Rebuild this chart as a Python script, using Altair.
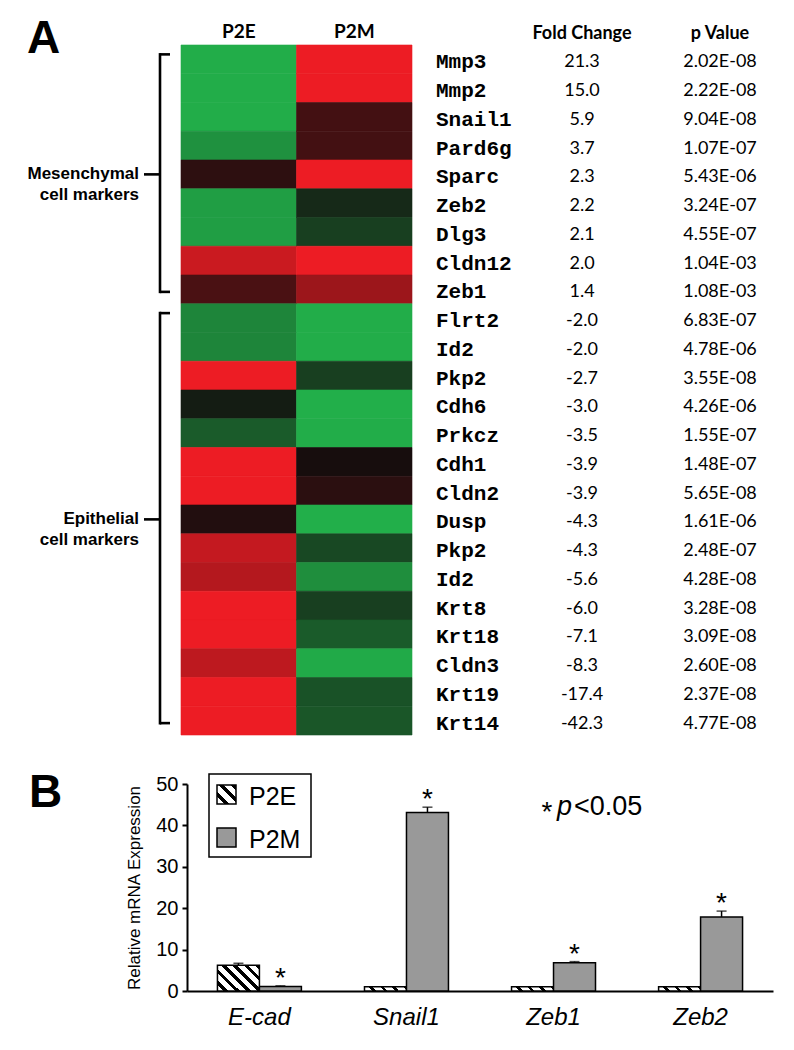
import altair as alt
import pandas as pd

# ---------------- Panel A data ----------------
genes = ["Mmp3", "Mmp2", "Snail1", "Pard6g", "Sparc", "Zeb2", "Dlg3", "Cldn12", "Zeb1",
         "Flrt2", "Id2", "Pkp2", "Cdh6", "Prkcz", "Cdh1", "Cldn2", "Dusp", "Pkp2", "Id2",
         "Krt8", "Krt18", "Cldn3", "Krt19", "Krt14"]
# heat-map level (-1 = bright green, 0 = black, +1 = bright red)
p2e_level = [-0.97, -0.97, -0.97, -0.80, 0.12, -0.88, -0.88, 0.84, 0.25,
             -0.73, -0.73, 1.0, -0.09, -0.47, 1.0, 1.0, 0.07, 0.81, 0.74,
             1.0, 1.0, 0.78, 1.0, 1.0]
p2m_level = [1.0, 1.0, 0.22, 0.22, 1.0, -0.17, -0.30, 1.0, 0.63,
             -0.97, -0.97, -0.30, -0.98, -0.97, 0.02, 0.11, -0.98, -0.36, -0.78,
             -0.30, -0.47, -0.95, -0.42, -0.44]
fold_change = [21.3, 15.0, 5.9, 3.7, 2.3, 2.2, 2.1, 2.0, 1.4,
               -2.0, -2.0, -2.7, -3.0, -3.5, -3.9, -3.9, -4.3, -4.3, -5.6,
               -6.0, -7.1, -8.3, -17.4, -42.3]
p_values = [2.02e-08, 2.22e-08, 9.04e-08, 1.07e-07, 5.43e-06, 3.24e-07, 4.55e-07, 1.04e-03, 1.08e-03,
            6.83e-07, 4.78e-06, 3.55e-08, 4.26e-06, 1.55e-07, 1.48e-07, 5.65e-08, 1.61e-06, 2.48e-07,
            4.28e-08, 3.28e-08, 3.09e-08, 2.60e-08, 2.37e-08, 4.77e-08]
samples = ["P2E", "P2M"]

group_labels = ["Mesenchymal\ncell markers", "Epithelial\ncell markers"]
group_first = [1, 10]
group_last = [9, 24]
group_mid = [5, 17]

# ---------------- Panel B data ----------------
bar_genes = ["E-cad", "Snail1", "Zeb1", "Zeb2"]
p2e_mean = [6.2, 1.0, 1.0, 1.0]
p2e_err = [0.5, 0.0, 0.0, 0.0]
p2m_mean = [1.1, 43.1, 6.8, 17.9]
p2m_err = [0.15, 1.3, 0.3, 1.4]
p2m_sig = [True, True, True, True]

# ---------------- tables ----------------
idx = list(range(1, len(genes) + 1))
heat_df = pd.DataFrame({
    "idx": idx * 2,
    "col": ["P2E"] * len(genes) + ["P2M"] * len(genes),
    "level": p2e_level + p2m_level,
})
tab_df = pd.DataFrame({
    "idx": idx,
    "gene": genes,
    "fc": [f"{v:.1f}" for v in fold_change],
    "pv": [f"{v:.2E}" for v in p_values],
})
grp_df = pd.DataFrame({"label": group_labels, "first": group_first,
                       "last": group_last, "mid": group_mid})

bar_df = pd.DataFrame({
    "gene": bar_genes * 2,
    "series": ["P2E"] * 4 + ["P2M"] * 4,
    "value": p2e_mean + p2m_mean,
    "err": p2e_err + p2m_err,
    "sig": [False] * 4 + p2m_sig,
})
bar_df["top"] = bar_df["value"] + bar_df["err"]
err_df = bar_df[bar_df["err"] > 0]
sig_df = bar_df[bar_df["sig"]]
leg_df = pd.DataFrame({"series": samples})


def hatch(n, black, x1, y1, x2, y2):
    stops = []
    for i in range(n):
        a, b, c = i / n, (i + 1 - black) / n, (i + 1) / n
        stops += [{"offset": round(a, 4), "color": "white"},
                  {"offset": round(b, 4), "color": "white"},
                  {"offset": round(b, 4), "color": "black"},
                  {"offset": round(c, 4), "color": "black"}]
    return {"gradient": "linear", "x1": x1, "y1": y1, "x2": x2, "y2": y2, "stops": stops}


hatch_tall = hatch(6, 0.42, 0, 1, 1.173, 0.282)
hatch_thin = hatch(4, 0.3, 0, 1, 1.085, 0.897)
hatch_leg = hatch(3, 0.42, 0, 1, 1, 0)
GREY = "#999999"

SANS = "Liberation Sans"
TAB = "Lato"

# ---------------- Panel A ----------------
row_scale = alt.Scale(domain=idx, range=[37, 727], paddingInner=0, paddingOuter=0)
col_scale = alt.Scale(domain=samples, range=[173, 404], paddingInner=0, paddingOuter=0)
heat_scale = alt.Scale(domain=[-1, 0, 1], range=["#22B24B", "#130D0D", "#ED1C24"],
                       interpolate="rgb", clamp=True)


def yrow(f):
    return alt.Y(f"{f}:O", scale=row_scale, axis=None)


xcol = alt.X("col:N", scale=col_scale, axis=None)

heat = alt.Chart(heat_df).mark_rect(strokeWidth=0.6).encode(
    x=xcol, y=yrow("idx"),
    fill=alt.Fill("level:Q", scale=heat_scale, legend=None),
    stroke=alt.Stroke("level:Q", scale=heat_scale, legend=None),
)
col_head = alt.Chart(pd.DataFrame({"col": samples})).mark_text(
    baseline="alphabetic", font=TAB, fontWeight="bold", fontSize=19, color="black"
).encode(x=xcol, y=alt.value(30), text="col:N")

gene_txt = alt.Chart(tab_df).mark_text(
    align="left", baseline="middle", dy=3, font="Liberation Mono", fontWeight="bold",
    fontSize=21, color="black"
).encode(x=alt.value(428), y=yrow("idx"), text="gene:N")
fc_txt = alt.Chart(tab_df).mark_text(
    align="center", baseline="middle", dy=3, font=TAB, fontSize=18, color="black"
).encode(x=alt.value(574), y=yrow("idx"), text="fc:N")
pv_txt = alt.Chart(tab_df).mark_text(
    align="center", baseline="middle", dy=3, font=TAB, fontSize=18, color="black"
).encode(x=alt.value(712), y=yrow("idx"), text="pv:N")
head_df = pd.DataFrame({"h": ["Fold Change", "p Value"]})
fc_head = alt.Chart(head_df[head_df.h == "Fold Change"]).mark_text(
    align="center", baseline="alphabetic", font=TAB, fontWeight="bold", fontSize=18, color="black"
).encode(x=alt.value(574), y=alt.value(31), text="h:N")
pv_head = alt.Chart(head_df[head_df.h == "p Value"]).mark_text(
    align="center", baseline="alphabetic", font=TAB, fontWeight="bold", fontSize=18, color="black"
).encode(x=alt.value(712), y=alt.value(31), text="h:N")

br_vert = alt.Chart(grp_df).mark_rule(color="black", strokeWidth=2.6, yOffset=-5, y2Offset=2.5,
                                      strokeCap="square").encode(
    x=alt.value(152), y=yrow("first"), y2="last:O")
br_top = alt.Chart(grp_df).mark_rule(color="black", strokeWidth=2.6, yOffset=-5).encode(
    x=alt.value(152), x2=alt.value(162), y=yrow("first"))
br_bot = alt.Chart(grp_df).mark_rule(color="black", strokeWidth=2.6, yOffset=2.5).encode(
    x=alt.value(152), x2=alt.value(162), y=yrow("last"))
br_mid = alt.Chart(grp_df).mark_rule(color="black", strokeWidth=2.6).encode(
    x=alt.value(136), x2=alt.value(152), y=yrow("mid"))
br_lab = alt.Chart(grp_df).mark_text(
    align="right", baseline="middle", lineBreak="\n", lineHeight=21, font=SANS,
    fontWeight="bold", fontSize=17, color="black"
).encode(x=alt.value(131), y=yrow("mid"), text="label:N")

lab_a = alt.Chart(pd.DataFrame({"t": ["A"]})).mark_text(
    align="left", baseline="alphabetic", font=SANS, fontWeight="bold", fontSize=46, color="black"
).encode(x=alt.value(19), y=alt.value(45), text="t:N")

panel_a = alt.layer(heat, col_head, gene_txt, fc_txt, pv_txt, fc_head, pv_head,
                    br_vert, br_top, br_bot, br_mid, br_lab, lab_a)

# ---------------- Panel B ----------------
xbar_scale = alt.Scale(domain=bar_genes, range=[179, 765], paddingInner=0.429, paddingOuter=0.207)
ybar_scale = alt.Scale(domain=[0, 50], range=[983, 776], nice=False, zero=True)
xbar_axis = alt.Axis(orient="bottom", offset=-51, title=None, labelFont=SANS, labelFontSize=24,
                     labelFontStyle="italic", labelColor="black", labelPadding=14, ticks=False,
                     tickSize=0, domainColor="black", domainWidth=2, labelAngle=0, grid=False)
ybar_axis = alt.Axis(orient="left", offset=-179, values=[0, 10, 20, 30, 40, 50],
                     title="Relative mRNA Expression", titleFont=SANS, titleFontSize=17,
                     titleFontWeight="normal", titleColor="black", titlePadding=12,
                     labelFont=SANS, labelFontSize=20, labelColor="black", labelPadding=4,
                     tickSize=5, tickWidth=2, tickColor="black", domainColor="black",
                     domainWidth=2, grid=False)


def xb():
    return alt.X("gene:N", scale=xbar_scale, axis=xbar_axis)


def yb(f):
    return alt.Y(f"{f}:Q", scale=ybar_scale, axis=ybar_axis)


def xo():
    return alt.XOffset("series:N", scale=alt.Scale(domain=samples, paddingInner=0, paddingOuter=0))


fill = alt.Fill("series:N", scale=alt.Scale(domain=samples, range=["white", GREY]), legend=None,
                condition=[{"test": "datum.series === 'P2E' && datum.value > 3", "value": hatch_tall},
                           {"test": "datum.series === 'P2E'", "value": hatch_thin}])
bars = alt.Chart(bar_df).mark_bar(stroke="black", strokeWidth=1.5).encode(
    x=xb(), xOffset=xo(), y=yb("value"), fill=fill)
err_rule = alt.Chart(err_df).mark_rule(color="black", strokeWidth=1.5).encode(
    x=xb(), xOffset=xo(), y=yb("value"), y2="top:Q")
err_cap = alt.Chart(err_df).mark_tick(color="black", thickness=1.5, size=10).encode(
    x=xb(), xOffset=xo(), y=yb("top"))
stars = alt.Chart(sig_df).mark_text(text="*", baseline="alphabetic", dy=1, font=SANS,
                                    fontSize=28, color="black").encode(
    x=xb(), xOffset=xo(), y=yb("top"))
note_star = alt.Chart(pd.DataFrame({"t": ["*"]})).mark_text(
    align="center", baseline="alphabetic", font=SANS, fontSize=28, color="black"
).encode(x=alt.value(539), y=alt.value(813), text="t:N")
note_p = alt.Chart(pd.DataFrame({"t": ["p"]})).mark_text(
    align="left", baseline="alphabetic", font=SANS, fontStyle="italic", fontSize=27, color="black"
).encode(x=alt.value(549), y=alt.value(807), text="t:N")
note_rest = alt.Chart(pd.DataFrame({"t": ["<0.05"]})).mark_text(
    align="left", baseline="alphabetic", font=SANS, fontSize=27, color="black"
).encode(x=alt.value(566), y=alt.value(807), text="t:N")
lab_b = alt.Chart(pd.DataFrame({"t": ["B"]})).mark_text(
    align="left", baseline="alphabetic", font=SANS, fontWeight="bold", fontSize=46, color="black"
).encode(x=alt.value(21), y=alt.value(799), text="t:N")

# legend box with the two swatches
leg_box = alt.Chart(leg_df.head(1)).mark_rect(fill="white", stroke="black", strokeWidth=1.5).encode(
    x=alt.value(201), x2=alt.value(303), y=alt.value(766), y2=alt.value(849))
leg_sw_e = alt.Chart(leg_df[leg_df.series == "P2E"]).mark_rect(
    fill=hatch_leg, stroke="black", strokeWidth=1.5).encode(
    x=alt.value(209), x2=alt.value(228), y=alt.value(777), y2=alt.value(796))
leg_sw_m = alt.Chart(leg_df[leg_df.series == "P2M"]).mark_rect(
    fill=GREY, stroke="black", strokeWidth=1.5).encode(
    x=alt.value(209), x2=alt.value(228), y=alt.value(820), y2=alt.value(839))
leg_lab_e = alt.Chart(leg_df[leg_df.series == "P2E"]).mark_text(
    align="left", baseline="alphabetic", font=SANS, fontSize=25, color="black").encode(
    x=alt.value(241), y=alt.value(797), text="series:N")
leg_lab_m = alt.Chart(leg_df[leg_df.series == "P2M"]).mark_text(
    align="left", baseline="alphabetic", font=SANS, fontSize=25, color="black").encode(
    x=alt.value(241), y=alt.value(840), text="series:N")

panel_b = alt.layer(bars, err_rule, err_cap, stars, note_star, note_p, note_rest, lab_b,
                    leg_box, leg_sw_e, leg_sw_m, leg_lab_e, leg_lab_m)

chart = alt.layer(panel_a, panel_b).resolve_scale(
    x="independent", y="independent", fill="independent", stroke="independent"
).properties(
    width=778, height=1034, padding=0, autosize="none", background="white"
).configure_view(stroke=None)

chart.save("out.html", embed_options={"renderer": "svg", "actions": False})
